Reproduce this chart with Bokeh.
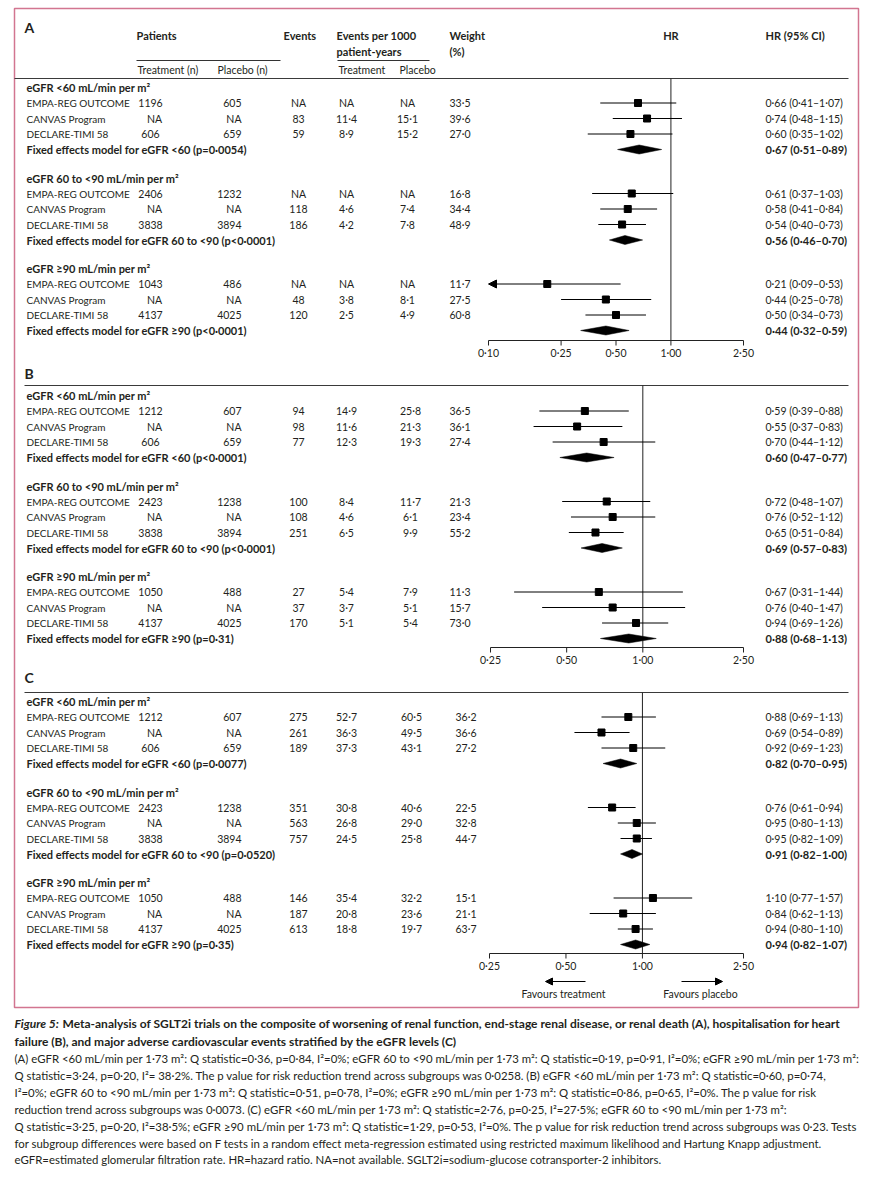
import math
from bokeh.plotting import figure
from bokeh.models import ColumnDataSource, Range1d, LogScale, Arrow, NormalHead
from bokeh.core.properties import value
from bokeh.embed import file_html
from bokeh.resources import INLINE

# ---------------- data ----------------
studies = ["EMPA-REG OUTCOME", "CANVAS Program", "DECLARE-TIMI 58"]
group_labels = ["eGFR <60 mL/min per m²", "eGFR 60 to <90 mL/min per m²", "eGFR ≥90 mL/min per m²"]
fixed_labels = ["Fixed effects model for eGFR <60", "Fixed effects model for eGFR 60 to <90",
                "Fixed effects model for eGFR ≥90"]

# Panel A: worsening renal function / ESRD / renal death
A_treat_n = [1196, None, 606, 2406, None, 3838, 1043, None, 4137]
A_plac_n = [605, None, 659, 1232, None, 3894, 486, None, 4025]
A_events = [None, 83, 59, None, 118, 186, None, 48, 120]
A_rate_t = [None, 11.4, 8.9, None, 4.6, 4.2, None, 3.8, 2.5]
A_rate_p = [None, 15.1, 15.2, None, 7.4, 7.8, None, 8.1, 4.9]
A_weight = [33.5, 39.6, 27.0, 16.8, 34.4, 48.9, 11.7, 27.5, 60.8]
A_hr = [0.66, 0.74, 0.60, 0.61, 0.58, 0.54, 0.21, 0.44, 0.50]
A_lo = [0.41, 0.48, 0.35, 0.37, 0.41, 0.40, 0.09, 0.25, 0.34]
A_hi = [1.07, 1.15, 1.02, 1.03, 0.84, 0.73, 0.53, 0.78, 0.73]
A_fix_hr = [0.67, 0.56, 0.44]
A_fix_lo = [0.51, 0.46, 0.32]
A_fix_hi = [0.89, 0.70, 0.59]
A_fix_p = ["p=0·0054", "p<0·0001", "p<0·0001"]
A_ticks = [0.10, 0.25, 0.50, 1.00, 2.50]

# Panel B: hospitalisation for heart failure
B_treat_n = [1212, None, 606, 2423, None, 3838, 1050, None, 4137]
B_plac_n = [607, None, 659, 1238, None, 3894, 488, None, 4025]
B_events = [94, 98, 77, 100, 108, 251, 27, 37, 170]
B_rate_t = [14.9, 11.6, 12.3, 8.4, 4.6, 6.5, 5.4, 3.7, 5.1]
B_rate_p = [25.8, 21.3, 19.3, 11.7, 6.1, 9.9, 7.9, 5.1, 5.4]
B_weight = [36.5, 36.1, 27.4, 21.3, 23.4, 55.2, 11.3, 15.7, 73.0]
B_hr = [0.59, 0.55, 0.70, 0.72, 0.76, 0.65, 0.67, 0.76, 0.94]
B_lo = [0.39, 0.37, 0.44, 0.48, 0.52, 0.51, 0.31, 0.40, 0.69]
B_hi = [0.88, 0.83, 1.12, 1.07, 1.12, 0.84, 1.44, 1.47, 1.26]
B_fix_hr = [0.60, 0.69, 0.88]
B_fix_lo = [0.47, 0.57, 0.68]
B_fix_hi = [0.77, 0.83, 1.13]
B_fix_p = ["p<0·0001", "p<0·0001", "p=0·31"]
B_ticks = [0.25, 0.50, 1.00, 2.50]

# Panel C: major adverse cardiovascular events
C_treat_n = [1212, None, 606, 2423, None, 3838, 1050, None, 4137]
C_plac_n = [607, None, 659, 1238, None, 3894, 488, None, 4025]
C_events = [275, 261, 189, 351, 563, 757, 146, 187, 613]
C_rate_t = [52.7, 36.3, 37.3, 30.8, 26.8, 24.5, 35.4, 20.8, 18.8]
C_rate_p = [60.5, 49.5, 43.1, 40.6, 29.0, 25.8, 32.2, 23.6, 19.7]
C_weight = [36.2, 36.6, 27.2, 22.5, 32.8, 44.7, 15.1, 21.1, 63.7]
C_hr = [0.88, 0.69, 0.92, 0.76, 0.95, 0.95, 1.10, 0.84, 0.94]
C_lo = [0.69, 0.54, 0.69, 0.61, 0.80, 0.82, 0.77, 0.62, 0.80]
C_hi = [1.13, 0.89, 1.23, 0.94, 1.13, 1.09, 1.57, 1.13, 1.10]
C_fix_hr = [0.82, 0.91, 0.94]
C_fix_lo = [0.70, 0.82, 0.82]
C_fix_hi = [0.95, 1.00, 1.07]
C_fix_p = ["p=0·0077", "p=0·0520", "p=0·35"]
C_ticks = [0.25, 0.50, 1.00, 2.50]

caption_title_lead = "Figure 5:"
caption_title = [
    "Meta-analysis of SGLT2i trials on the composite of worsening of renal function, end-stage renal disease, or renal death (A), hospitalisation for heart",
    "failure (B), and major adverse cardiovascular events stratified by the eGFR levels (C)",
]
caption_body = [
    "(A) eGFR <60 mL/min per 1·73 m²: Q statistic=0·36, p=0·84, I²=0%; eGFR 60 to <90 mL/min per 1·73 m²: Q statistic=0·19, p=0·91, I²=0%; eGFR ≥90 mL/min per 1·73 m²:",
    "Q statistic=3·24, p=0·20, I²= 38·2%. The p value for risk reduction trend across subgroups was 0·0258. (B) eGFR <60 mL/min per 1·73 m²: Q statistic=0·60, p=0·74,",
    "I²=0%; eGFR 60 to <90 mL/min per 1·73 m²: Q statistic=0·51, p=0·78, I²=0%; eGFR ≥90 mL/min per 1·73 m²: Q statistic=0·86, p=0·65, I²=0%. The p value for risk",
    "reduction trend across subgroups  was 0·0073. (C) eGFR <60 mL/min per 1·73 m²: Q statistic=2·76, p=0·25, I²=27·5%; eGFR 60 to <90 mL/min per 1·73 m²:",
    "Q statistic=3·25, p=0·20, I²=38·5%; eGFR ≥90 mL/min per 1·73 m²: Q statistic=1·29, p=0·53, I²=0%. The p value for risk reduction trend across subgroups  was 0·23. Tests",
    "for subgroup differences were based on F tests in a random effect meta-regression estimated using restricted maximum likelihood and Hartung Knapp adjustment.",
    "eGFR=estimated glomerular filtration rate. HR=hazard ratio. NA=not available. SGLT2i=sodium-glucose cotransporter-2 inhibitors.",
]

# ---------------- layout / style ----------------
FONT = "Lato"
TXT = "#231f20"
BORDER = "#d27590"
W, H = 872, 1176
X0, Y0 = 0, 0

panels = {
    "A": dict(data=(A_treat_n, A_plac_n, A_events, A_rate_t, A_rate_p, A_weight, A_hr, A_lo, A_hi,
                    A_fix_hr, A_fix_lo, A_fix_hi, A_fix_p, A_ticks),
              tick_px=(488, 743), label_y=27, rule_y=78, rule_x0=14, group_y=[87, 177.5, 268],
              axis_y=340, ratep_x=407, weight_x=449),
    "B": dict(data=(B_treat_n, B_plac_n, B_events, B_rate_t, B_rate_p, B_weight, B_hr, B_lo, B_hi,
                    B_fix_hr, B_fix_lo, B_fix_hi, B_fix_p, B_ticks),
              tick_px=(490, 743), label_y=373, rule_y=385, rule_x0=24, group_y=[395, 485.5, 576],
              axis_y=647, ratep_x=410, weight_x=449),
    "C": dict(data=(C_treat_n, C_plac_n, C_events, C_rate_t, C_rate_p, C_weight, C_hr, C_lo, C_hi,
                    C_fix_hr, C_fix_lo, C_fix_hi, C_fix_p, C_ticks),
              tick_px=(489, 743), label_y=677, rule_y=692, rule_x0=24, group_y=[701, 791.5, 882],
              axis_y=953, ratep_x=411, weight_x=455),
}
ROW = 15.5
TS = "10.5px"
TSN = "10px"
TSB = "11px"

p = figure(width=W, height=H, x_range=Range1d(X0, X0 + W), y_range=Range1d(Y0 + H, Y0),
           output_backend="svg", toolbar_location=None, min_border=0,
           x_axis_location=None, y_axis_location=None, outline_line_color=None,
           background_fill_color="white", border_fill_color="white")
p.grid.visible = False

extra_r, extra_s = {}, {}
for name, cfg in panels.items():
    ticks = cfg["data"][-1]
    lo_v, hi_v = ticks[0], ticks[-1]
    lo_px, hi_px = cfg["tick_px"]
    k = (hi_px - lo_px) / (math.log10(hi_v) - math.log10(lo_v))
    start = 10 ** (math.log10(lo_v) - (lo_px - X0) / k)
    end = 10 ** (math.log10(hi_v) + (X0 + W - hi_px) / k)
    extra_r[name] = Range1d(start, end)
    extra_s[name] = LogScale()
p.extra_x_ranges = extra_r
p.extra_x_scales = extra_s


def fmt1(v):
    return "NA" if v is None else f"{v:.1f}".replace(".", "·")


def fmt_int(v):
    return "NA" if v is None else str(v)


def fmt_ci(h, l, u):
    return f"{h:.2f} ({l:.2f}–{u:.2f})".replace(".", "·")


def txt(xs, ys, texts, align="left", style="normal", size=TS, color=TXT, rng="default"):
    src = ColumnDataSource(dict(x=list(xs), y=list(ys), t=list(texts)))
    p.text(x="x", y="y", text="t", source=src, text_align=align, text_baseline="middle",
           text_font=value(FONT), text_font_size=size, text_font_style=style,
           text_color=color, x_range_name=rng)


# border box
p.quad(left=[14], right=[858], top=[8], bottom=[1007], fill_color=None,
       line_color=BORDER, line_width=1.5)

# panel A column headers
txt([136, 283, 336, 449, 765], [35] * 5, ["Patients", "Events", "Events per 1000", "Weight", "HR (95% CI)"],
    style="bold", size=TSB)
txt([336, 449], [51, 51], ["patient-years", "(%)"], style="bold", size=TSB)
txt([1.0], [35], ["HR"], align="center", style="bold", rng="A", size=TSB)
txt([137, 217, 338, 399], [69] * 4, ["Treatment (n)", "Placebo (n)", "Treatment", "Placebo"])
p.segment(x0=[136, 337], x1=[280, 429], y0=[60, 60], y1=[60, 60], line_color="#333333", line_width=1)

for name, cfg in panels.items():
    (tn, pn, ev, rt, rp, wt, hr, lo, hi, fhr, flo, fhi, fp, ticks) = cfg["data"]
    rng = name
    txt([24], [cfg["label_y"]], [name], style="bold", size="14px")
    p.segment(x0=[cfg["rule_x0"]], x1=[848], y0=[cfg["rule_y"]], y1=[cfg["rule_y"]],
              line_color="#3a3a3a", line_width=1)

    ys, fy, gy = [], [], []
    for g, y0 in enumerate(cfg["group_y"]):
        gy.append(y0)
        for i in range(3):
            ys.append(y0 + ROW * (i + 1))
        fy.append(y0 + ROW * 4)

    txt([26] * 3, gy, group_labels, style="bold", size=TSB)
    txt([26] * 9, ys, studies * 3, size=TSN)
    txt([26] * 3, fy, [f"{lab} ({pv})" for lab, pv in zip(fixed_labels, fp)], style="bold", size=TSB)

    # treatment n
    num = [(y, v) for y, v in zip(ys, tn) if v is not None]
    na = [y for y, v in zip(ys, tn) if v is None]
    txt([150] * len(num), [a for a, _ in num], [fmt_int(b) for _, b in num], align="center")
    txt([154] * len(na), na, ["NA"] * len(na), align="center")
    # placebo n
    txt([241] * 9, ys, [fmt_int(v) for v in pn], align="right")
    # events
    txt([298] * 9, ys, [fmt_int(v) for v in ev], align="center")
    # events per 1000 treatment
    txt([346] * 9, ys, [fmt1(v) for v in rt], align="center")
    # events per 1000 placebo
    txt([cfg["ratep_x"]] * 9, ys, [fmt1(v) for v in rp], align="center")
    # weight
    txt([cfg["weight_x"]] * 9, ys, [fmt1(v) for v in wt])
    # HR text
    txt([765] * 9, ys, [fmt_ci(a, b, c) for a, b, c in zip(hr, lo, hi)])
    txt([765] * 3, fy, [fmt_ci(a, b, c) for a, b, c in zip(fhr, flo, fhi)], style="bold", size=TSB)

    tmin, tmax = ticks[0], ticks[-1]
    # reference line at HR = 1
    p.segment(x0=[1.0], x1=[1.0], y0=[cfg["rule_y"]], y1=[cfg["axis_y"]], line_color="#222222",
              line_width=1, x_range_name=rng)
    # CIs
    seg = dict(x0=[], x1=[], y=[])
    for h_, l_, u_, y in zip(hr, lo, hi, ys):
        if l_ < tmin:
            p.add_layout(Arrow(end=NormalHead(size=8, fill_color="black", line_color="black"),
                               x_start=min(u_, tmax), y_start=y, x_end=tmin, y_end=y,
                               line_color="black", line_width=1, x_range_name=rng))
        else:
            seg["x0"].append(l_)
            seg["x1"].append(min(u_, tmax))
            seg["y"].append(y)
    p.segment(x0="x0", x1="x1", y0="y", y1="y", source=ColumnDataSource(seg), line_color="black",
              line_width=1, x_range_name=rng)
    p.scatter(x=hr, y=ys, marker="square", size=7, fill_color="black", line_color="black",
              x_range_name=rng)
    # diamonds
    dx = [[l_, h_, u_, h_] for h_, l_, u_ in zip(fhr, flo, fhi)]
    dy = [[y, y - 4.5, y, y + 4.5] for y in fy]
    p.patches(xs=dx, ys=dy, fill_color="black", line_color="black", line_width=0.5,
              x_range_name=rng)
    # axis
    ay = cfg["axis_y"]
    p.segment(x0=[tmin], x1=[tmax], y0=[ay], y1=[ay], line_color="#222222", line_width=1,
              x_range_name=rng)
    p.segment(x0=ticks, x1=ticks, y0=[ay] * len(ticks), y1=[ay + 5] * len(ticks),
              line_color="#222222", line_width=1, x_range_name=rng)
    txt(ticks, [ay + 12] * len(ticks), [f"{t:.2f}".replace(".", "·") for t in ticks],
        align="center", rng=rng)

# favours arrows (panel C)
for xs_, xe_ in [(585, 545), (681, 722)]:
    p.add_layout(Arrow(end=NormalHead(size=7, fill_color="black", line_color="black"),
                       x_start=xs_, y_start=981, x_end=xe_, y_end=981, line_color="black",
                       line_width=1))
txt([563, 700], [993, 993], ["Favours treatment", "Favours placebo"], align="center")

# caption
txt([14], [1023], [caption_title_lead], style="bold italic", size="12px")
txt([62], [1023], [caption_title[0]], style="bold", size="12px")
txt([14], [1041], [caption_title[1]], style="bold", size="12px")
txt([14] * len(caption_body), [1058 + 16.9 * i for i in range(len(caption_body))], caption_body,
    size="11.4px")

open("out.html", "w").write(file_html(p, INLINE))
